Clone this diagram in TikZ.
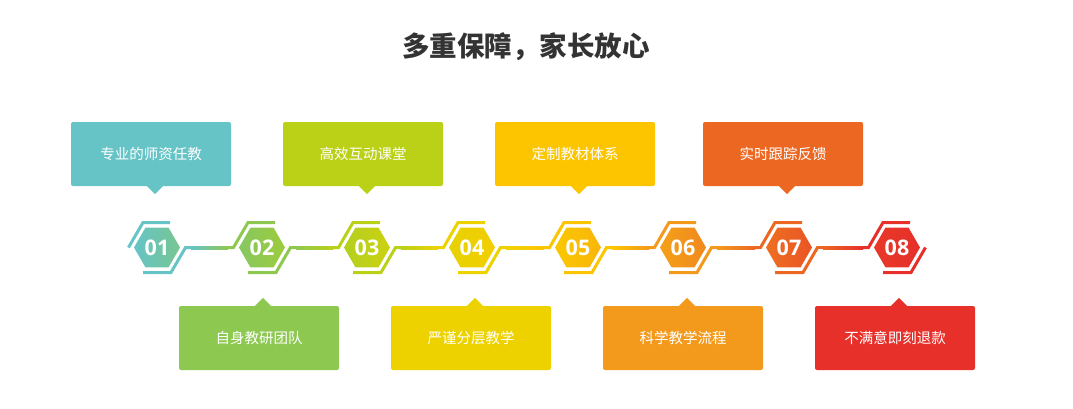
\documentclass[tikz,border=0pt]{standalone}
\usepackage{fontspec}
\setmainfont{Open Sans}
\newfontfamily\cjk{Noto Sans CJK SC}
\usetikzlibrary{shapes.geometric,calc}

\definecolor{c1}{HTML}{66C4C6}
\definecolor{c2}{HTML}{8DC850}
\definecolor{c3}{HTML}{BAD118}
\definecolor{c4}{HTML}{EED200}
\definecolor{c5}{HTML}{FCC500}
\definecolor{c6}{HTML}{F39A1C}
\definecolor{c7}{HTML}{EC6822}
\definecolor{c8}{HTML}{E7302A}
\definecolor{headgray}{HTML}{333333}

\begin{document}
\begin{tikzpicture}[x=1pt, y=-1pt,
    card/.style={rectangle, rounded corners=2pt, minimum width=160pt, minimum height=64pt, inner sep=0pt, text=white, font=\cjk\fontsize{14.5}{17}\selectfont},
    hexa/.style={regular polygon, regular polygon sides=6, minimum size=46pt, inner sep=0pt, text=white, font=\fontsize{21.5}{24}\selectfont\bfseries},
    bar/.style={line width=3pt},
]
\useasboundingbox (0,0) rectangle (1073,408);

\node[font=\cjk\bfseries\fontsize{27.5}{32}\selectfont, text=headgray] (head) at (526,47) {多重保障，家长放心};

\node[card, fill=c1] (t1) at (151,154) {专业的师资任教};
\node[card, fill=c3] (t3) at (363,154) {高效互动课堂};
\node[card, fill=c5] (t5) at (575,154) {定制教材体系};
\node[card, fill=c7] (t7) at (783,154) {实时跟踪反馈};

\node[card, fill=c2] (b2) at (259,338) {自身教研团队};
\node[card, fill=c4] (b4) at (471,338) {严谨分层教学};
\node[card, fill=c6] (b6) at (683,338) {科学教学流程};
\node[card, fill=c8] (b8) at (895,338) {不满意即刻退款};

\foreach \n/\c in {1/c1,3/c3,5/c5,7/c7}
  \fill[\c] ([xshift=-4pt]t\n.south) -- ([xshift=12pt]t\n.south) -- ([xshift=4pt,yshift=-8pt]t\n.south) -- cycle;
\foreach \n/\c in {2/c2,4/c4,6/c6,8/c8}
  \fill[\c] ([xshift=-4pt]b\n.north) -- ([xshift=12pt]b\n.north) -- ([xshift=4pt,yshift=8pt]b\n.north) -- cycle;

\node[hexa, left color=c1, right color=c1!55!c2] (h1) at (157,247.5) {01};
\node[hexa, left color=c2!85!c1, right color=c2!65!c3] (h2) at (262,247.5) {02};
\node[hexa, left color=c3!85!c2, right color=c3!65!c4] (h3) at (367,247.5) {03};
\node[hexa, left color=c4!85!c3, right color=c4!65!c5] (h4) at (472,247.5) {04};
\node[hexa, left color=c5!85!c4, right color=c5!65!c6] (h5) at (578,247.5) {05};
\node[hexa, left color=c6!85!c5, right color=c6!65!c7] (h6) at (683,247.5) {06};
\node[hexa, left color=c7!85!c6, right color=c7!65!c8] (h7) at (789,247.5) {07};
\node[hexa, left color=c8!85!c7, right color=c8] (h8) at (897,247.5) {08};

\draw[bar, c1] ([shift={(-28.5,0)}]h1.center) -- ++(14.5,-25) -- ++(27,0);
\foreach \i in {2,...,8}
  \draw[bar, c\i] ([shift={(-35,0)}]h\i.center) -- ++(6.5,0) -- ++(14.5,-25) -- ++(27,0);
\foreach \i in {1,...,7}
  \draw[bar, c\i] ([shift={(-14,25)}]h\i.center) -- ++(28,0) -- ++(14.5,-25) -- ++(6.5,0);
\draw[bar, c8] ([shift={(-14,25)}]h8.center) -- ++(28,0) -- ++(14.5,-25);

\foreach \i/\j in {1/2,2/3,3/4,4/5,5/6,6/7,7/8} {
  \coordinate (l\i) at ([xshift=34pt]h\i.center);
  \coordinate (r\j) at ([xshift=-34pt]h\j.center);
  \shade[left color=c\i, right color=c\j] ($(l\i)+(0,-1.5)$) rectangle ($(r\j)+(0,1.5)$);
}
\end{tikzpicture}
\end{document}
